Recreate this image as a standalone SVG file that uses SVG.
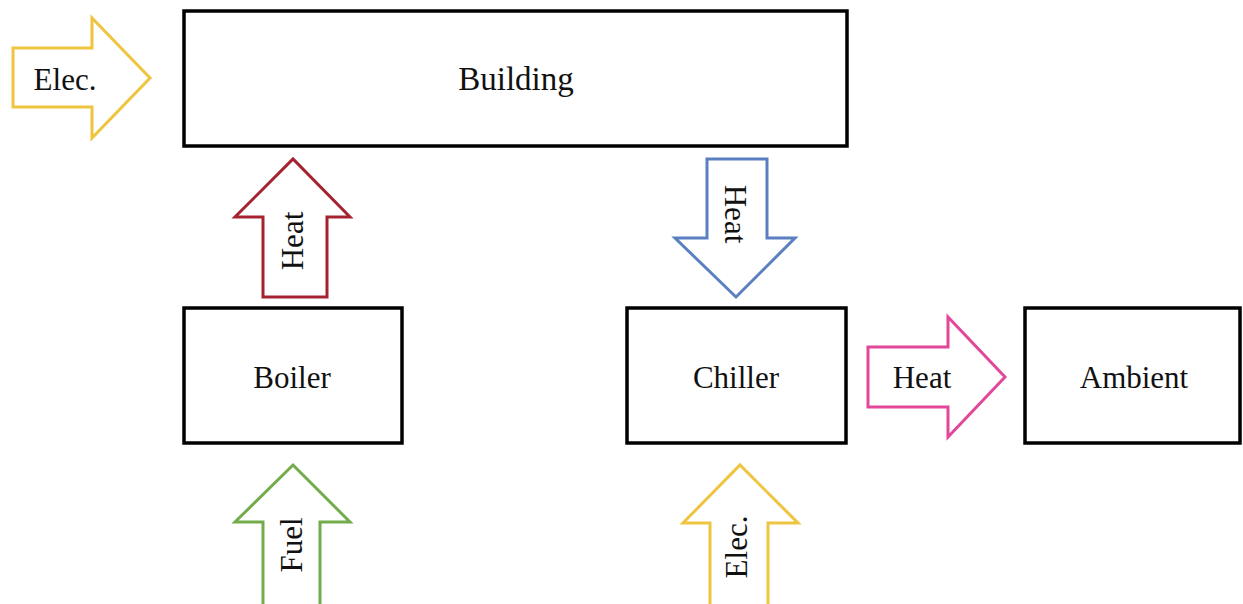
<svg xmlns="http://www.w3.org/2000/svg" width="1243" height="604" viewBox="0 0 1243 604">
  <style>
    .box { fill: #ffffff; stroke: #000000; stroke-width: 3.5; }
    .arrow { fill: #ffffff; stroke-width: 3; stroke-linejoin: miter; }
    .lbl { font-family: "Liberation Serif", "Times New Roman", serif; font-size: 31px; fill: #111111; text-anchor: middle; }
    .elec { stroke: #EFC43F; }
    .heat-red { stroke: #A52330; }
    .heat-blue { stroke: #5A80C2; }
    .heat-pink { stroke: #E2479A; }
    .fuel { stroke: #74AC4C; }
  </style>
  <rect width="1243" height="604" fill="#ffffff"/>

  <!-- flow arrows -->
  <g id="connectors">
    <!-- electricity into the building -->
    <g id="elec-building">
      <polygon class="arrow elec" points="13,48 92,48 92,18 150,78 92,138 92,107 13,107"/>
      <text class="lbl" x="65" y="90">Elec.</text>
    </g>
    <!-- heat from boiler to building -->
    <g id="heat-boiler">
      <polygon class="arrow heat-red" points="263,297 263,217 235,217 293,159 350,217 327,217 327,297"/>
      <text class="lbl" transform="translate(303,241) rotate(-90)" x="0" y="0">Heat</text>
    </g>
    <!-- heat from building to chiller -->
    <g id="heat-chiller">
      <polygon class="arrow heat-blue" points="707,159 767,159 767,238 795,238 736,297 675,238 707,238"/>
      <text class="lbl" transform="translate(725,214) rotate(90)" x="0" y="0">Heat</text>
    </g>
    <!-- heat rejected to ambient -->
    <g id="heat-ambient">
      <polygon class="arrow heat-pink" points="868,347 948,347 948,317 1005,377 948,437 948,407 868,407"/>
      <text class="lbl" x="922" y="388">Heat</text>
    </g>
    <!-- fuel into the boiler -->
    <g id="fuel-boiler">
      <polygon class="arrow fuel" points="263,610 263,522 235,522 293,465 350,522 320,522 320,610"/>
      <text class="lbl" transform="translate(302,545) rotate(-90)" x="0" y="0">Fuel</text>
    </g>
    <!-- electricity into the chiller -->
    <g id="elec-chiller">
      <polygon class="arrow elec" points="710,610 710,523 683,523 740,465 798,523 768,523 768,610"/>
      <text class="lbl" transform="translate(747,547) rotate(-90)" x="0" y="0">Elec.</text>
    </g>
  </g>

  <!-- nodes -->
  <g id="building">
    <rect class="box" x="184" y="11" width="663" height="135"/>
    <text class="lbl" x="516" y="90" style="font-size:33px">Building</text>
  </g>
  <g id="boiler">
    <rect class="box" x="184" y="308" width="218" height="135"/>
    <text class="lbl" x="292" y="388">Boiler</text>
  </g>
  <g id="chiller">
    <rect class="box" x="627" y="308" width="219" height="135"/>
    <text class="lbl" x="736" y="388">Chiller</text>
  </g>
  <g id="ambient">
    <rect class="box" x="1025" y="308" width="215" height="135"/>
    <text class="lbl" x="1134" y="388">Ambient</text>
  </g>
</svg>
